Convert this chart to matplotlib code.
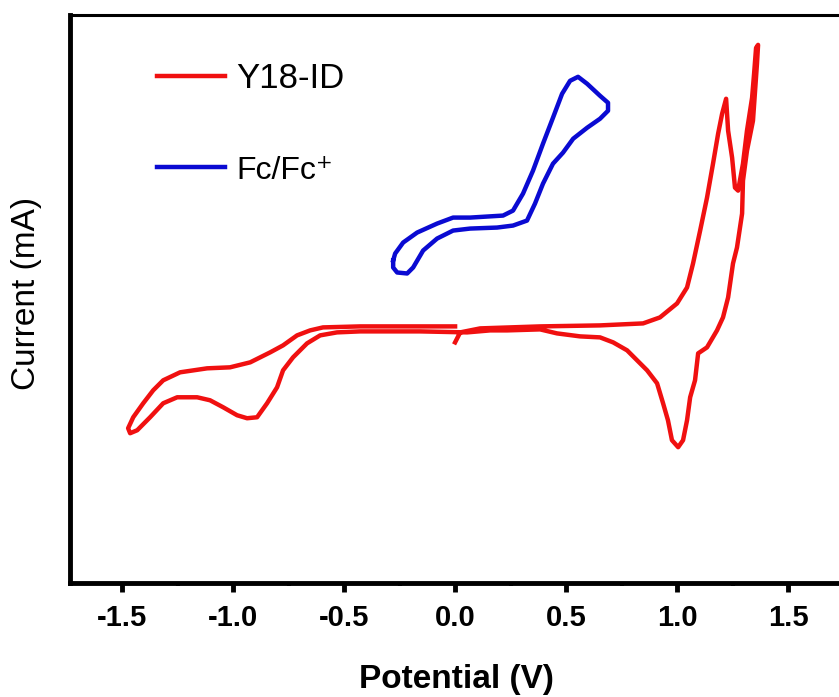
import matplotlib
matplotlib.use("Agg")
import matplotlib.pyplot as plt
from matplotlib.ticker import MultipleLocator

plt.rcParams['font.family'] = ['Liberation Sans', 'DejaVu Sans']
plt.rcParams['axes.unicode_minus'] = False

# Y18-ID cyclic voltammogram (potential in V, current in arbitrary mA units)
y18_potential = [
    0.000, 0.023, 0.113, 0.383, 0.653, 0.847, 0.923, 1.000, 1.045, 1.072,
    1.104, 1.135, 1.162, 1.185, 1.203, 1.221, 1.230, 1.248, 1.261, 1.275,
    1.297, 1.315, 1.338, 1.347, 1.356, 1.365,
    1.360, 1.342, 1.315, 1.297, 1.293, 1.270, 1.252, 1.230, 1.207, 1.180,
    1.135, 1.095, 1.081, 1.059, 1.045, 1.027, 1.005, 0.977, 0.959, 0.937,
    0.910, 0.865, 0.820, 0.775, 0.712, 0.653, 0.563, 0.459, 0.383, 0.234,
    0.158, 0.054, -0.158, -0.428, -0.532, -0.608, -0.667, -0.730, -0.775,
    -0.802, -0.847, -0.892, -0.937, -0.982, -1.045, -1.104, -1.162, -1.252,
    -1.315, -1.374, -1.432, -1.464,
    -1.473, -1.450, -1.405, -1.360, -1.315, -1.239, -1.117, -1.014, -0.923,
    -0.833, -0.775, -0.712, -0.653, -0.595, -0.428, -0.158, 0.000,
]
y18_current = [
    -0.12, -0.02, 0.02, 0.04, 0.05, 0.07, 0.13, 0.27, 0.43, 0.67,
    1.00, 1.33, 1.67, 1.97, 2.17, 2.32, 2.00, 1.73, 1.43, 1.40,
    1.67, 2.00, 2.33, 2.57, 2.83, 2.86,
    2.67, 2.10, 1.80, 1.50, 1.17, 0.83, 0.67, 0.33, 0.13, 0.00,
    -0.17, -0.23, -0.50, -0.67, -0.90, -1.10, -1.17, -1.10, -0.90, -0.73,
    -0.53, -0.40, -0.30, -0.20, -0.12, -0.07, -0.06, -0.03, 0.01, 0.00,
    0.00, -0.02, -0.01, -0.01, -0.02, -0.05, -0.13, -0.27, -0.40,
    -0.57, -0.73, -0.87, -0.88, -0.85, -0.77, -0.70, -0.67, -0.67,
    -0.73, -0.87, -1.00, -1.03,
    -0.98, -0.87, -0.73, -0.60, -0.50, -0.42, -0.38, -0.37, -0.32,
    -0.22, -0.15, -0.05, 0.00, 0.03, 0.04, 0.04, 0.04,
]

# ferrocene reference loop
fc_potential = [
    -0.279, -0.270, -0.234, -0.171, -0.081, -0.009, 0.068, 0.216, 0.261, 0.306,
    0.351, 0.396, 0.441, 0.482, 0.518, 0.554, 0.595, 0.653, 0.689, 0.689,
    0.653, 0.595, 0.532, 0.486, 0.441, 0.396, 0.360, 0.324, 0.261, 0.189,
    0.068, -0.009, -0.081, -0.144, -0.189, -0.216, -0.261, -0.279, -0.279,
]
fc_current = [
    0.70, 0.77, 0.88, 0.98, 1.07, 1.13, 1.13, 1.15, 1.20, 1.37,
    1.60, 1.87, 2.13, 2.37, 2.50, 2.54, 2.47, 2.35, 2.28, 2.20,
    2.12, 2.03, 1.92, 1.78, 1.67, 1.47, 1.27, 1.10, 1.05, 1.03,
    1.02, 1.00, 0.92, 0.80, 0.63, 0.57, 0.58, 0.63, 0.70,
]

fig = plt.figure(figsize=(8.39, 6.97), dpi=100)
ax = fig.add_axes([0.0834, 0.1636, 0.922, 0.815])

ax.plot(y18_potential, y18_current, color='#f01010', linewidth=3.2, label='Y18-ID')
ax.plot(fc_potential, fc_current, color='#0a0ad2', linewidth=3.2, label='Fc/Fc⁺')

ax.set_xlim(-1.735, 1.75)
ax.set_ylim(-2.53, 3.16)

ax.xaxis.set_major_locator(MultipleLocator(0.5))
ax.xaxis.set_minor_locator(MultipleLocator(0.25))
ax.set_yticks([])
ax.tick_params(axis='x', which='major', direction='out', length=6.5, width=3.5,
               pad=9, labelsize=21)
ax.tick_params(axis='x', which='minor', direction='out', length=2.5, width=3)
for lab in ax.get_xticklabels():
    lab.set_fontweight('bold')

ax.spines['left'].set_linewidth(3.5)
ax.spines['bottom'].set_linewidth(3.5)
ax.spines['top'].set_linewidth(2.2)
ax.spines['right'].set_visible(False)

ax.set_xlabel('Potential (V)', fontsize=24, fontweight='bold')
ax.xaxis.set_label_coords(0.499, -0.142)
ax.set_ylabel('Current (mA)', fontsize=24, va='center')
ax.yaxis.set_label_coords(-0.056, 0.51)

leg = ax.legend(loc='upper left', bbox_to_anchor=(0.1125, 0.917), frameon=False,
                fontsize=25, handlelength=1.95, handletextpad=0.33, labelspacing=1.72,
                borderpad=0, borderaxespad=0)
leg.get_texts()[1].set_fontsize(23)

fig.savefig('out.png', dpi=100)
